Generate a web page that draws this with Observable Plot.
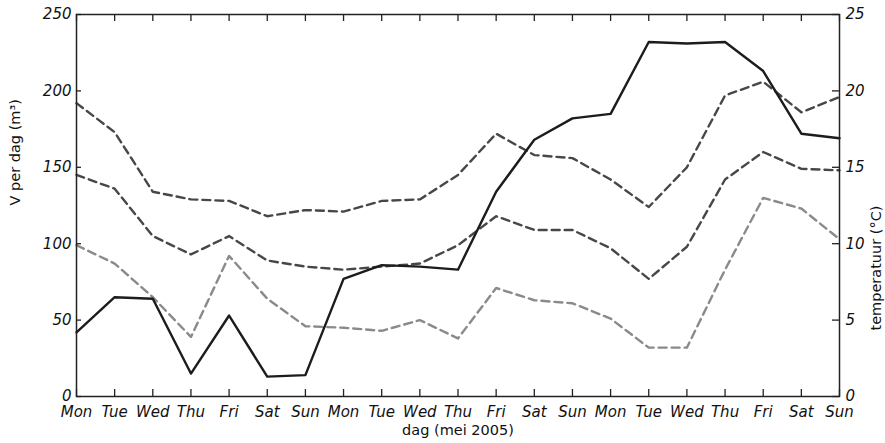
<!DOCTYPE html>
<html>
<head>
<meta charset="utf-8">
<script src="https://cdn.jsdelivr.net/npm/d3@7"></script>
<script src="https://cdn.jsdelivr.net/npm/@observablehq/plot@0.6"></script>
<style>
  body { margin: 0; background: #fff; }
</style>
</head>
<body>
<div id="chart"></div>
<script>
// Three weeks of May 2005, Monday to Sunday
const days = [
  "Mon", "Tue", "Wed", "Thu", "Fri", "Sat", "Sun",
  "Mon", "Tue", "Wed", "Thu", "Fri", "Sat", "Sun",
  "Mon", "Tue", "Wed", "Thu", "Fri", "Sat", "Sun"
];

// Daily volume (m³)
const volume = [42, 65, 64, 15, 53, 13, 14, 77, 86, 85, 83, 134, 168, 182, 185, 232, 231, 232, 213, 172, 169];

// Daily temperatures (°C)
const tempMax  = [19.2, 17.3, 13.4, 12.9, 12.8, 11.8, 12.2, 12.1, 12.8, 12.9, 14.5, 17.2, 15.8, 15.6, 14.2, 12.4, 15.0, 19.7, 20.6, 18.6, 19.6];
const tempMean = [14.5, 13.6, 10.5, 9.3, 10.5, 8.9, 8.5, 8.3, 8.5, 8.7, 9.9, 11.8, 10.9, 10.9, 9.7, 7.7, 9.8, 14.2, 16.0, 14.9, 14.8];
const tempMin  = [9.9, 8.7, 6.5, 3.9, 9.2, 6.4, 4.6, 4.5, 4.3, 5.0, 3.8, 7.1, 6.3, 6.1, 5.1, 3.2, 3.2, 8.3, 13.0, 12.3, 10.3];

// Axis ticks
const volumeTicks = [0, 50, 100, 150, 200, 250];
const tempTicks = [0, 5, 10, 15, 20, 25];

// The right axis (°C) shares the plot's y scale: 25 °C sits at 250 m³
const tempFactor = 10;

const rows = days.map((day, i) => ({
  i, day,
  volume: volume[i],
  tMax: tempMax[i],
  tMean: tempMean[i],
  tMin: tempMin[i]
}));

// plot area size, used to keep the tick marks short and inside the frame
const W = 885, H = 443;
const mL = 76, mR = 46, mT = 14, mB = 47;
const innerW = W - mL - mR, innerH = H - mT - mB;
const xMax = days.length - 1, yMax = 250;
// tick lengths expressed in scale units
const tickLenY = 7 / innerH * yMax;   // vertical ticks on the day axes
const tickLenXL = 5 / innerW * xMax;  // left ticks
const tickLenXR = 7 / innerW * xMax;  // right ticks

const dash = "8,5";
const tickFont = { fontStyle: "italic", fontSize: 15 };
const dayIdx = d3.range(days.length);
const tempTickPos = tempTicks.map(t => t * tempFactor);
const tickStyle = { stroke: "#222", strokeWidth: 1.3 };

const chart = Plot.plot({
  width: W,
  height: H,
  marginLeft: mL,
  marginRight: mR,
  marginTop: mT,
  marginBottom: mB,
  style: { fontFamily: "DejaVu Sans", fontSize: "15px", color: "#111", background: "#fff" },
  x: { domain: [0, xMax] },
  y: { domain: [0, yMax] },
  marks: [
    // temperature series (right axis)
    Plot.line(rows, { x: "i", y: d => d.tMax * tempFactor, stroke: "#474747", strokeWidth: 2.4, strokeDasharray: dash }),
    Plot.line(rows, { x: "i", y: d => d.tMean * tempFactor, stroke: "#474747", strokeWidth: 2.4, strokeDasharray: dash }),
    Plot.line(rows, { x: "i", y: d => d.tMin * tempFactor, stroke: "#8a8a8a", strokeWidth: 2.4, strokeDasharray: dash }),
    // volume series (left axis)
    Plot.line(rows, { x: "i", y: "volume", stroke: "#1c1c1c", strokeWidth: 2.4 }),

    // inward tick marks on all four edges
    Plot.ruleX(dayIdx, { x: d => d, y1: 0, y2: tickLenY, ...tickStyle }),
    Plot.ruleX(dayIdx, { x: d => d, y1: yMax - tickLenY, y2: yMax, ...tickStyle }),
    Plot.ruleY(volumeTicks, { y: d => d, x1: 0, x2: tickLenXL, ...tickStyle }),
    Plot.ruleY(tempTickPos, { y: d => d, x1: xMax - tickLenXR, x2: xMax, ...tickStyle }),

    Plot.frame({ stroke: "#222", strokeWidth: 1.5 }),

    // tick labels
    Plot.axisX(dayIdx, {
      anchor: "bottom", tickSize: 0, tickPadding: 10,
      tickFormat: i => days[i], label: null, ...tickFont
    }),
    Plot.axisY(volumeTicks, {
      anchor: "left", tickSize: 0, tickPadding: 5, label: null, ...tickFont
    }),
    Plot.axisY(tempTickPos, {
      anchor: "right", tickSize: 0, tickPadding: 6,
      tickFormat: v => v / tempFactor, label: null, ...tickFont
    }),

    // axis titles
    Plot.text(["V per dag (m³)"], {
      text: d => d, frameAnchor: "left", dx: -61, rotate: -90, fontSize: 14.5
    }),
    Plot.text(["temperatuur (°C)"], {
      text: d => d, frameAnchor: "right", dx: 37, rotate: -90, fontSize: 14.5
    }),
    Plot.text(["dag (mei 2005)"], {
      text: d => d, frameAnchor: "bottom", dy: 38, fontSize: 14.5
    })
  ]
});

document.getElementById("chart").append(chart);
</script>
</body>
</html>
